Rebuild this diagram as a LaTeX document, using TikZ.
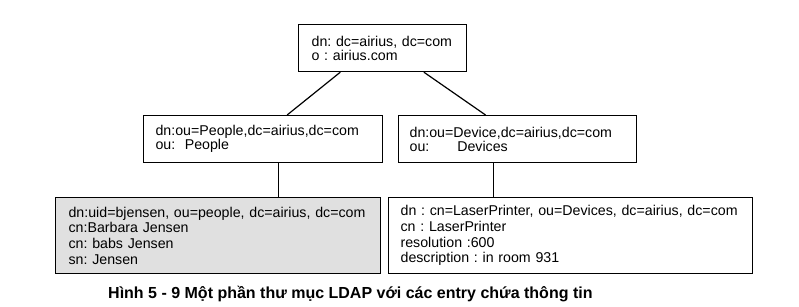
\documentclass[tikz,border=0pt]{standalone}
\usepackage{fontspec}
\setmainfont{Liberation Sans}
\usetikzlibrary{calc}
\definecolor{entrygray}{RGB}{224,224,224}
\frenchspacing
\begin{document}
\begin{tikzpicture}[x=1pt,y=-1pt,
  entry/.style={draw=black, line width=1.2pt, rectangle, inner xsep=13pt, inner ysep=0pt,
    align=left, font=\fontsize{14.2}{#1}\selectfont\frenchspacing, anchor=north west},
  link/.style={draw=black, line width=1.2pt}]
\useasboundingbox (0,0) rectangle (799,307);
% root entry
\node[entry=14, minimum width=168pt, minimum height=47pt, text width=142pt, inner xsep=13pt]
  (root) at (298,24) {\mbox{dn: dc=airius, dc=com}\\o : airius.com};
% organisational units
\node[entry=14, minimum width=239pt, minimum height=47pt, text width=215pt, inner xsep=12pt]
  (people) at (143,115) {dn:ou=People,dc=airius,dc=com\\ou:\ \ People};
\node[entry=14, minimum width=238pt, minimum height=47pt, text width=216pt, inner xsep=11pt]
  (devices) at (398,115) {dn:ou=Device,dc=airius,dc=com\\ou:\hspace{28pt}Devices};
% leaf entries
\node[entry=15.6, fill=entrygray, minimum width=325pt, minimum height=76pt, text width=299pt]
  (person) at (55,197) {dn:uid=bjensen, ou=people, dc=airius, dc=com\\cn:Barbara Jensen\\cn: babs Jensen\\sn: Jensen};
\node[entry=15.6, minimum width=364pt, minimum height=76pt, text width=340pt, inner xsep=12pt]
  (printer) at (388,197) {\mbox{dn : cn=LaserPrinter, ou=Devices, dc=airius, dc=com}\\cn : LaserPrinter\\resolution :600\\description : in room 931};
% tree links
\coordinate (rootL) at ($(root.south west)!0.25!(root.south east)$);
\coordinate (rootR) at ($(root.south west)!0.744!(root.south east)$);
\coordinate (peopleT) at ($(people.north west)!0.60!(people.north east)$);
\coordinate (devicesT) at ($(devices.north west)!0.366!(devices.north east)$);
\coordinate (peopleB) at ($(people.south west)!0.565!(people.south east)$);
\coordinate (devicesB) at ($(devices.south west)!0.40!(devices.south east)$);
\draw[link] (rootL) -- (peopleT);
\draw[link] (rootR) -- (devicesT);
\draw[link] (peopleB) -- (peopleB |- person.north);
\draw[link] (devicesB) -- (devicesB |- printer.north);
% caption
\node[font=\fontsize{16}{18}\selectfont\bfseries, anchor=west, inner sep=0pt] (caption) at (108,294)
  {Hình 5 - 9 Một phần thư mục LDAP với các entry chứa thông tin};
\end{tikzpicture}
\end{document}
